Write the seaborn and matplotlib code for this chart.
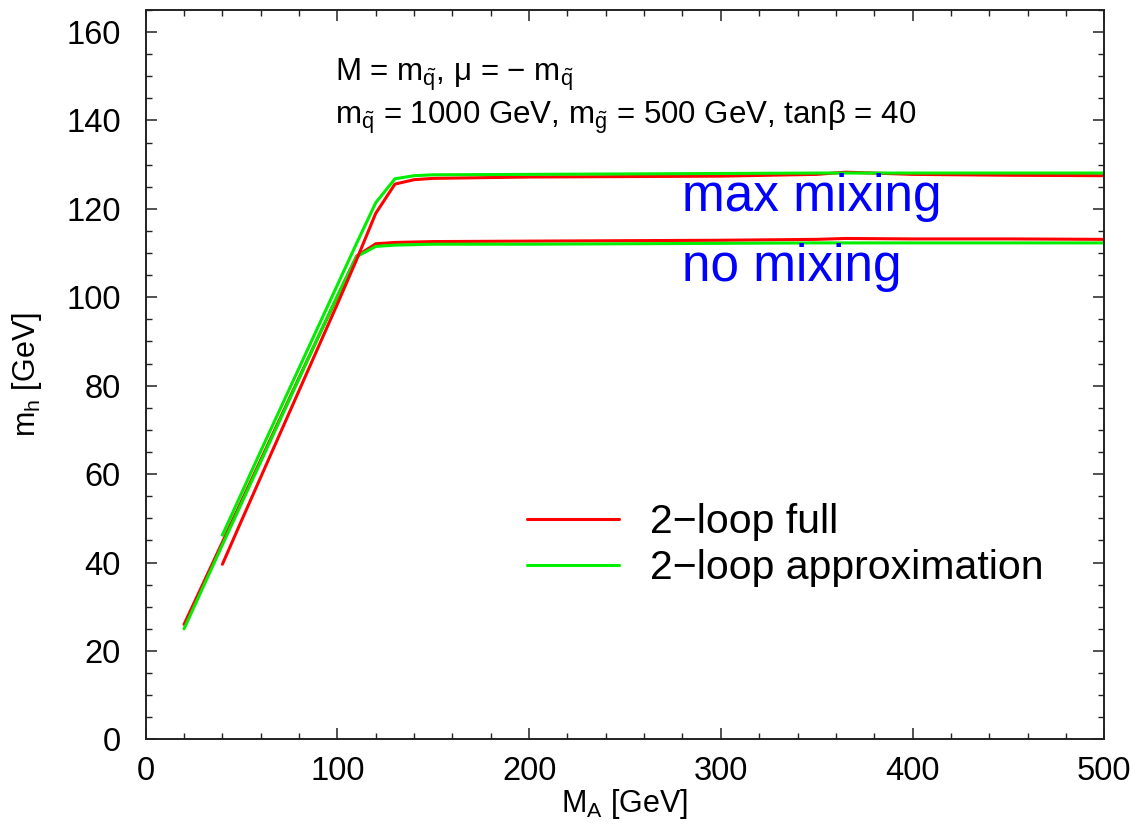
import matplotlib
matplotlib.use("Agg")
import matplotlib.pyplot as plt
import seaborn as sns
from matplotlib.ticker import MultipleLocator

# M_A grid (GeV)
ma_nomix = [20, 30, 40, 50, 60, 70, 80, 90, 100, 110, 120, 130, 150,
            200, 250, 300, 350, 365, 400, 450, 500]
ma_maxmix = [40, 50, 60, 70, 80, 90, 100, 110, 120, 130, 140, 150,
             200, 250, 300, 350, 365, 400, 450, 500]

# m_h (GeV), no mixing
full_nomix = [26.0, 35.3, 44.6, 53.9, 63.2, 72.5, 81.8, 91.0, 100.2, 109.3, 112.1,
              112.4, 112.6, 112.7, 112.8, 112.9, 113.1, 113.3, 113.2, 113.2, 113.1]
approx_nomix = [25.0, 34.5, 44.0, 53.4, 62.8, 72.2, 81.6, 91.0, 100.3, 109.2, 111.5,
                111.8, 112.0, 112.0, 112.1, 112.2, 112.3, 112.3, 112.3, 112.3, 112.3]

# m_h (GeV), max mixing
full_maxmix = [39.6, 49.5, 59.3, 69.1, 78.9, 88.7, 98.5, 108.5, 119.0, 125.6, 126.6,
               126.9, 127.2, 127.3, 127.4, 127.8, 128.3, 127.8, 127.6, 127.5]
approx_maxmix = [46.2, 55.7, 65.2, 74.6, 84.0, 93.4, 102.8, 112.2, 121.4, 126.8, 127.5,
                 127.7, 127.8, 127.9, 128.0, 128.1, 128.1, 128.1, 128.1, 128.1]

sns.set_style("ticks")
plt.rcParams['font.family'] = ['Liberation Sans', 'DejaVu Sans']
plt.rcParams['mathtext.fontset'] = 'custom'
plt.rcParams['mathtext.rm'] = 'Liberation Sans'
plt.rcParams['mathtext.it'] = 'Liberation Sans'
plt.rcParams['text.color'] = 'black'
plt.rcParams['axes.labelcolor'] = 'black'

fig = plt.figure(figsize=(11.41, 8.27), dpi=100)
ax = fig.add_axes([0.1277, 0.106, 0.8401, 0.882])

red = '#ff0000'
green = '#00ee00'
lw = 2.2

sns.lineplot(x=ma_nomix, y=full_nomix, color=red, lw=lw, ax=ax, label='2\u2212loop full')
sns.lineplot(x=ma_nomix, y=approx_nomix, color=green, lw=lw, ax=ax, label='2\u2212loop approximation')
sns.lineplot(x=ma_maxmix, y=full_maxmix, color=red, lw=lw, ax=ax)
sns.lineplot(x=ma_maxmix, y=approx_maxmix, color=green, lw=lw, ax=ax)

ax.set_xlim(0, 500)
ax.set_ylim(0, 165)
ax.xaxis.set_major_locator(MultipleLocator(100))
ax.xaxis.set_minor_locator(MultipleLocator(20))
ax.yaxis.set_major_locator(MultipleLocator(20))
ax.yaxis.set_minor_locator(MultipleLocator(5))
ax.tick_params(which='both', direction='in', top=True, right=True, colors='#222222')
ax.tick_params(which='major', length=8, width=1.1, labelsize=23.5, labelcolor='black')
ax.tick_params(axis='x', which='major', pad=12)
ax.tick_params(axis='y', which='major', pad=18)
ax.tick_params(which='minor', length=4.5, width=1.0)
for sp in ax.spines.values():
    sp.set_linewidth(1.4)
    sp.set_color('#222222')

ax.set_xlabel(r'M$_\mathregular{A}$ [GeV]', fontsize=22, labelpad=0)
ax.set_ylabel(r'm$_\mathregular{h}$ [GeV]', fontsize=22, labelpad=16)

# parameter box text
ax.text(99, 148.9, r'M = m$_{\tilde{q}}$, μ = − m$_{\tilde{q}}$',
        fontsize=22.5, va='baseline')
ax.text(99, 139.2, r'm$_{\tilde{q}}$ = 1000 GeV, m$_{\tilde{g}}$ = 500 GeV, tanβ = 40',
        fontsize=22.5, va='baseline')

ax.text(280, 119.5, 'max mixing', color='#0000ff', fontsize=37, va='baseline')
ax.text(280, 103.6, 'no mixing', color='#0000ff', fontsize=37, va='baseline')

ax.legend(loc='center left', bbox_to_anchor=(0.398, 0.266), frameon=False,
          fontsize=29.5, handlelength=2.25, handletextpad=0.75, labelspacing=0.2,
          borderpad=0, borderaxespad=0)

plt.savefig('out.png', dpi=100)
plt.close()
